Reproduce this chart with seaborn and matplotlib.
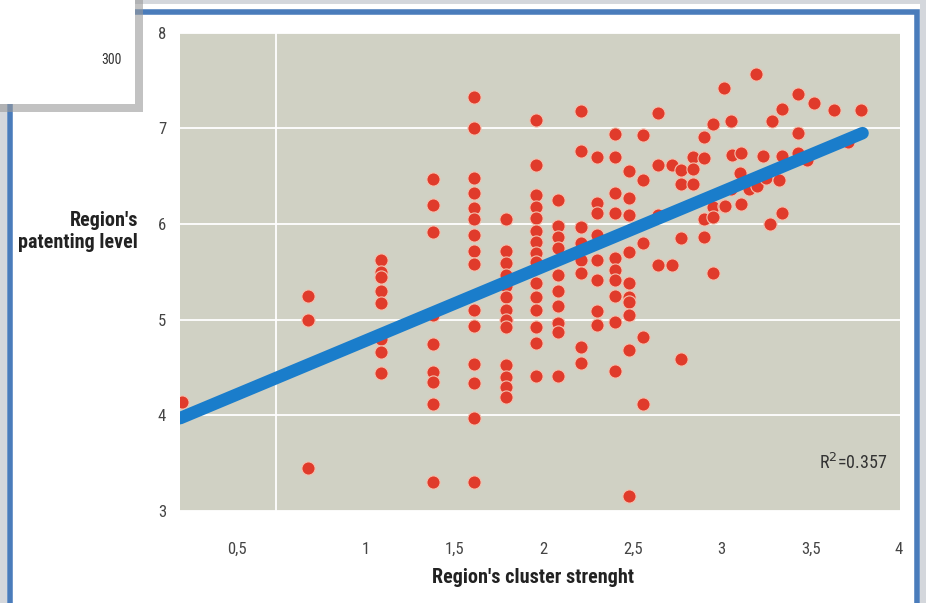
import matplotlib

matplotlib.use("Agg")
import matplotlib.pyplot as plt
import pandas as pd
import seaborn as sns
from matplotlib import font_manager
from matplotlib.patches import Rectangle

# points that share one x value (vertical stacks)
STACK_X = [-0.03, 0.68, 1.09, 1.38, 1.61, 1.79, 1.96, 2.08, 2.21, 2.30, 2.40, 2.48,
           2.56, 2.64, 2.72, 2.77, 2.84, 2.90, 2.95, 3.01]
STACK_Y = [
    [4.14],
    [5.25, 5.00, 3.45],
    [5.62, 5.50, 5.45, 5.30, 5.17, 4.80, 4.66, 4.44],
    [6.47, 6.20, 5.92, 5.05, 4.75, 4.45, 4.35, 4.12, 3.30],
    [7.33, 7.00, 6.48, 6.32, 6.17, 6.05, 5.88, 5.72, 5.58, 5.10, 4.93, 4.54, 4.34, 3.97, 3.30],
    [6.05, 5.72, 5.59, 5.47, 5.35, 5.24, 5.10, 5.00, 4.92, 4.53, 4.40, 4.30, 4.19],
    [7.09, 6.62, 6.30, 6.18, 6.06, 5.93, 5.81, 5.70, 5.60, 5.38, 5.24, 5.10, 4.92, 4.76, 4.41],
    [6.25, 5.98, 5.86, 5.75, 5.47, 5.30, 5.14, 4.97, 4.87, 4.41],
    [7.18, 6.76, 5.97, 5.80, 5.62, 5.49, 4.71, 4.55],
    [6.70, 6.22, 6.11, 5.88, 5.62, 5.41, 5.09, 4.94],
    [6.94, 6.70, 6.32, 6.11, 5.64, 5.52, 5.41, 5.25, 4.98, 4.46],
    [6.55, 6.27, 6.09, 5.71, 5.38, 5.24, 5.18, 5.05, 4.68, 3.16],
    [6.93, 6.46, 5.80, 4.82, 4.12],
    [7.16, 6.62, 6.09, 5.57],
    [6.62, 5.57],
    [6.56, 6.42, 5.85, 4.59],
    [6.70, 6.57, 6.42],
    [6.91, 6.69, 6.05, 5.86],
    [7.05, 6.18, 6.07, 5.49],
    [7.42, 6.19],
]

# scattered points at the top right
CLOUD_X = [3.05, 3.06, 3.11, 3.10, 3.15, 3.20, 3.25, 3.32, 3.02, 3.11, 3.34, 3.27, 3.05,
           3.19, 3.43, 3.52, 3.63, 3.78, 3.34, 3.28, 3.43, 3.23, 3.34, 3.43, 3.48, 3.71]
CLOUD_Y = [7.08, 6.72, 6.74, 6.53, 6.37, 6.40, 6.48, 6.46, 6.19, 6.21, 6.11, 6.00, 6.37,
           7.57, 7.36, 7.27, 7.19, 7.19, 7.20, 7.08, 6.95, 6.71, 6.71, 6.74, 6.67, 6.86]

# fitted line end points
FIT_X = [-0.04, 3.79]
FIT_Y = [3.97, 6.95]

X_TICK_POS = [0.28, 1.0, 1.5, 2.0, 2.5, 3.0, 3.5, 3.99]
X_TICK_LABELS = ["0,5", "1", "1,5", "2", "2,5", "3", "3,5", "4"]
X_GRID = [0.5, 1.0, 1.5, 2.0, 2.5, 3.0, 3.5]
Y_TICKS = [3, 4, 5, 6, 7, 8]

BG = "#d0d1c4"
DOT = "#e03b2b"
LINE = "#1a7dcb"
FRAME = "#4a7cbb"

# a narrow face if one is installed, otherwise a smaller regular one
installed = {f.name for f in font_manager.fontManager.ttflist}
narrow = [n for n in ["Roboto Condensed", "Liberation Sans Narrow", "DejaVu Sans Condensed",
                      "Open Sans Condensed"] if n in installed]
if narrow:
    FONT = [narrow[0], "DejaVu Sans"]
    scale = 1.0
else:
    FONT = ["Roboto", "DejaVu Sans"]
    scale = 0.8

xs, ys = [], []
for x, col in zip(STACK_X, STACK_Y):
    xs += [x] * len(col)
    ys += col
xs += CLOUD_X
ys += CLOUD_Y
df = pd.DataFrame({"cluster": xs, "patenting": ys})
fit = pd.DataFrame({"cluster": FIT_X, "patenting": FIT_Y})

sns.set_style("white")
plt.rcParams["font.family"] = FONT

fig = plt.figure(figsize=(9.26, 6.03), dpi=100)
fig.patch.set_facecolor("white")

# frame around the panel
fig.patches.append(Rectangle((0.003, -0.05), 0.994, 1.05, transform=fig.transFigure,
                             fill=False, edgecolor="#d4d7dc", linewidth=5, zorder=0))
fig.patches.append(Rectangle((0.011, -0.05), 0.979, 1.03, transform=fig.transFigure,
                             fill=False, edgecolor=FRAME, linewidth=4, zorder=1))

ax = fig.add_axes([0.1944, 0.1526, 0.7775, 0.7932])
ax.set_facecolor(BG)

sns.scatterplot(data=df, x="cluster", y="patenting", ax=ax, color=DOT, s=90,
                edgecolor="#f3c2b0", linewidth=0.8, zorder=3, legend=False)
sns.lineplot(data=fit, x="cluster", y="patenting", ax=ax, color=LINE, linewidth=9,
             solid_capstyle="round", zorder=4)

ax.set_xlim(-0.04, 4.0)
ax.set_ylim(3, 8)
ax.set_xticks(X_TICK_POS)
ax.set_xticklabels(X_TICK_LABELS)
ax.set_xticks(X_GRID, minor=True)
ax.set_yticks(Y_TICKS)
ax.grid(False)
ax.grid(True, which="minor", axis="x", color="white", linewidth=1.3, zorder=1)
ax.grid(True, which="major", axis="y", color="white", linewidth=1.3, zorder=1)
ax.set_axisbelow(True)
ax.tick_params(axis="both", which="both", length=0, labelsize=12 * scale, labelcolor="#444444")
ax.tick_params(axis="x", pad=22)
ax.tick_params(axis="y", pad=10)
for sp in ax.spines.values():
    sp.set_visible(False)

ax.set_xlabel("Region's cluster strenght", fontsize=14.5 * scale, fontweight="bold",
              color="#222222")
ax.xaxis.set_label_coords(0.49, -0.12)
ax.set_ylabel("Region's\npatenting level", fontsize=14.5 * scale, fontweight="bold",
              color="#222222", rotation=0, ha="right", va="center", multialignment="right")
ax.yaxis.set_label_coords(-0.058, 0.585)

ax.text(3.93, 3.5, "R$^2$=0.357", ha="right", va="center", fontsize=13 * scale,
        color="#333333", zorder=5)

# white inset box at the top left with its shadow
fig.patches.append(Rectangle((0.0, 1 - 112 / 603), 143 / 926, 112 / 603, transform=fig.transFigure,
                             facecolor="#9a9a9a", edgecolor="none", alpha=0.6, zorder=6))
fig.patches.append(Rectangle((0.0, 1 - 104 / 603), 135 / 926, 104 / 603, transform=fig.transFigure,
                             facecolor="white", edgecolor="none", zorder=7))
fig.text(122 / 926, 1 - 60 / 603, "300", ha="right", va="center", fontsize=10 * scale,
         color="#333333", zorder=8)

fig.savefig("out.png", dpi=100)
plt.close(fig)
